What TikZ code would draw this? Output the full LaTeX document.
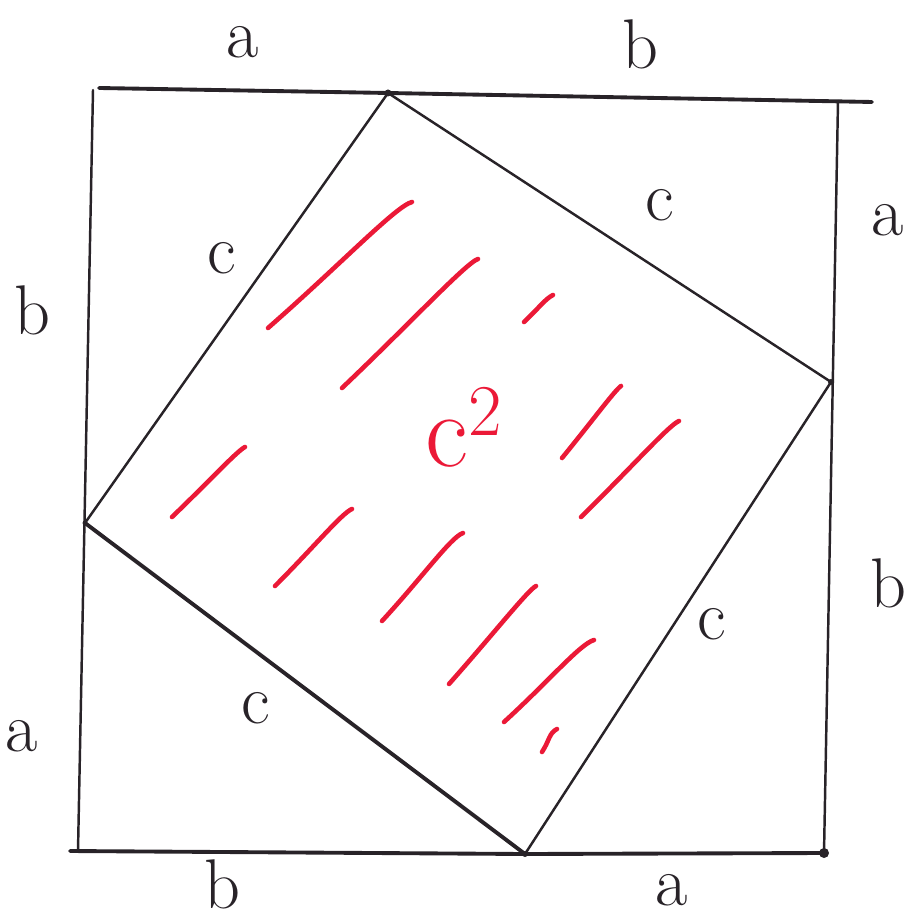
\documentclass[tikz,border=0pt]{standalone}
\usetikzlibrary{calc}
\definecolor{penred}{RGB}{235,25,55}
\definecolor{ink}{RGB}{40,35,40}
\tikzset{
  lbl/.style={font=\fontsize{20}{24}\selectfont, text=ink, inner sep=0pt},
  thinline/.style={draw=ink, line width=0.7pt, line cap=round},
  boldline/.style={draw=ink, line width=1.1pt, line cap=round},
  hatch/.style={draw=penred, line width=1.3pt, line cap=round},
  vdot/.style={fill=ink, draw=none}
}
\newcommand{\hatchstroke}[5]{%
  \draw[hatch] (#1,#2) .. controls ($(#1,#2)!0.5!(#3,#4)$) and ($(#3,#4)+(-#5,4)$) .. (#3,#4);}
\begin{document}
\begin{tikzpicture}[x=0.01cm, y=-0.01cm]
\useasboundingbox (0,0) rectangle (912,922);
% outer square corners
\coordinate (TL) at (93,90);
\coordinate (TLs) at (99,88);
\coordinate (TRe) at (872,102);
\coordinate (TR) at (838,101);
\coordinate (BL) at (78,851);
\coordinate (BLs) at (70,851);
\coordinate (BR) at (824,853);
% inner square
\coordinate (PT) at (388,93);
\coordinate (PR) at (831,382);
\coordinate (PB) at (525,854);
\coordinate (PL) at (85,523);
% outer frame
\draw[boldline] (TLs) -- (PT) -- (TRe);
\draw[thinline] (TL) -- (BL);
\draw[thinline] (TR) -- (BR);
\draw[boldline] (BLs) -- (PB) -- (BR);
% inner square
\draw[thinline] (PT) -- (PR);
\draw[thinline] (PR) -- (PB);
\draw[boldline] (PB) -- (PL);
\draw[thinline] (PL) -- (PT);
% vertex marks
\fill[vdot] (PT) circle (3.5);
\fill[vdot] (PR) circle (3);
\fill[vdot] (PB) circle (3);
\fill[vdot] (PL) circle (2.5);
\fill[vdot] (BR) circle (5);
% labels
\node[lbl] (la1) at (243,42) {a};
\node[lbl] (lb1) at (640,44) {b};
\node[lbl] (la2) at (888,220) {a};
\node[lbl] (lb2) at (32,310) {b};
\node[lbl] (lc1) at (222,258) {c};
\node[lbl] (lc2) at (660,205) {c};
\node[lbl] (lc3) at (712,624) {c};
\node[lbl] (lc4) at (256,708) {c};
\node[lbl] (la3) at (22,736) {a};
\node[lbl] (lb3) at (888,583) {b};
\node[lbl, anchor=base] (lb4) at (222,908) {b};
\node[lbl] (la4) at (672,890) {a};
\node[font=\fontsize{30}{34}\selectfont, text=penred, inner sep=0pt] (csq) at (465,428) {c$^{2}$};
% red hatching
\hatchstroke{268}{328}{412}{202}{16}
\hatchstroke{342}{388}{478}{259}{12}
\hatchstroke{524}{322}{553}{295}{8}
\hatchstroke{172}{517}{245}{447}{8}
\hatchstroke{562}{458}{621}{386}{6}
\hatchstroke{581}{517}{679}{421}{10}
\hatchstroke{275}{586}{352}{509}{10}
\hatchstroke{382}{621}{463}{533}{12}
\hatchstroke{449}{684}{536}{586}{8}
\hatchstroke{504}{722}{594}{640}{14}
\hatchstroke{542}{752}{557}{729}{8}
\end{tikzpicture}
\end{document}
